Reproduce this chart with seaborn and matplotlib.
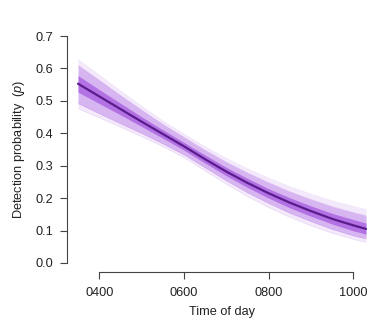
import matplotlib
matplotlib.use("Agg")
import matplotlib.pyplot as plt
import seaborn as sns
import pandas as pd

# Time of day (hours) and detection probability summaries of the posterior curves
hours = [3.5, 4.0, 4.5, 5.0, 5.5, 6.0, 6.5, 7.0, 7.5, 8.0, 8.5, 9.0, 9.5, 10.0, 10.3]
p_mean = [0.553, 0.514, 0.475, 0.436, 0.398, 0.360, 0.320, 0.282, 0.247, 0.215, 0.186, 0.160, 0.136, 0.116, 0.105]
p_hi_outer = [0.628, 0.580, 0.531, 0.484, 0.439, 0.398, 0.359, 0.323, 0.291, 0.262, 0.236, 0.213, 0.192, 0.175, 0.166]
p_lo_outer = [0.476, 0.448, 0.419, 0.390, 0.359, 0.325, 0.284, 0.243, 0.205, 0.171, 0.141, 0.115, 0.092, 0.073, 0.064]
p_hi_95 = [0.610, 0.564, 0.517, 0.472, 0.428, 0.388, 0.348, 0.311, 0.278, 0.248, 0.220, 0.196, 0.174, 0.156, 0.146]
p_lo_95 = [0.492, 0.461, 0.430, 0.400, 0.368, 0.334, 0.294, 0.254, 0.217, 0.184, 0.154, 0.128, 0.104, 0.084, 0.075]
p_hi_50 = [0.578, 0.535, 0.493, 0.451, 0.411, 0.372, 0.333, 0.295, 0.261, 0.229, 0.201, 0.176, 0.153, 0.134, 0.123]
p_lo_50 = [0.527, 0.492, 0.457, 0.421, 0.385, 0.348, 0.308, 0.269, 0.233, 0.200, 0.170, 0.144, 0.120, 0.099, 0.089]

x_ticks = [4, 6, 8, 10]
x_tick_labels = ["0400", "0600", "0800", "1000"]
y_ticks = [0.0, 0.1, 0.2, 0.3, 0.4, 0.5, 0.6, 0.7]

sns.set_style("ticks")
plt.rcParams["font.family"] = ["Liberation Sans", "DejaVu Sans"]
plt.rcParams["mathtext.fontset"] = "custom"
plt.rcParams["mathtext.it"] = "Liberation Sans:italic"
plt.rcParams["mathtext.rm"] = "Liberation Sans"

df = pd.DataFrame({"hour": hours, "p": p_mean})

fig = plt.figure(figsize=(3.9, 3.25), dpi=100)
ax = fig.add_axes([0.1718, 0.163, 0.795, 0.754])

band_color = "#9030d8"
ax.fill_between(hours, p_lo_outer, p_hi_outer, color=band_color, alpha=0.10, lw=0)
ax.fill_between(hours, p_lo_95, p_hi_95, color=band_color, alpha=0.28, lw=0)
ax.fill_between(hours, p_lo_50, p_hi_50, color=band_color, alpha=0.5, lw=0)
for lo, hi, a in [(p_lo_outer, p_hi_outer, 0.12), (p_lo_95, p_hi_95, 0.2)]:
    ax.plot(hours, lo, color=band_color, lw=0.4, alpha=a)
    ax.plot(hours, hi, color=band_color, lw=0.4, alpha=a)

sns.lineplot(data=df, x="hour", y="p", ax=ax, color="#5a1c8c", lw=1.6)

ax.set_xlim(3.24, 10.56)
ax.set_ylim(-0.028, 0.728)
ax.set_xticks(x_ticks)
ax.set_xticklabels(x_tick_labels)
ax.set_yticks(y_ticks)
ax.set_yticklabels([f"{v:.1f}" for v in y_ticks])

for side in ("top", "right"):
    ax.spines[side].set_visible(False)
ax.spines["left"].set_bounds(0.0, 0.7)
ax.spines["bottom"].set_bounds(4, 10)
for side in ("left", "bottom"):
    ax.spines[side].set_color("#444444")
    ax.spines[side].set_linewidth(0.8)

ax.tick_params(axis="both", length=5, width=0.8, color="#444444",
               labelsize=9.2, labelcolor="#222222")
ax.tick_params(axis="x", pad=6)
ax.tick_params(axis="y", pad=5)

ax.set_xlabel("Time of day", fontsize=9.2, color="#222222", labelpad=5)
ax.set_ylabel(r"Detection probability  ($\mathit{p}$)", fontsize=9.2, color="#222222", labelpad=6)

fig.savefig("out.png", dpi=100, facecolor="white")
